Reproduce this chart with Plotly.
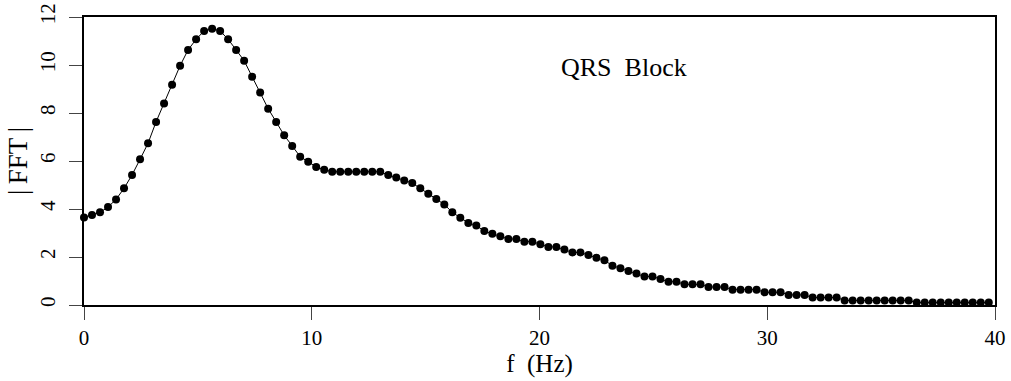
import numpy as np
import plotly.graph_objects as go

# FFT bin spacing (Hz): 360 Hz sampling, 1024-point FFT
sample_rate = 360.0
n_fft = 1024
fft_mag = [
    3.65, 3.75, 3.86, 4.08, 4.40, 4.86, 5.42, 6.07, 6.74, 7.63,
    8.40, 9.18, 9.97, 10.63, 11.07, 11.42, 11.51, 11.42, 11.07, 10.63,
    10.18, 9.51, 8.85, 8.18, 7.63, 7.07, 6.63, 6.18, 5.97, 5.75,
    5.64, 5.55, 5.55, 5.55, 5.55, 5.55, 5.55, 5.55, 5.42, 5.31,
    5.19, 5.08, 4.86, 4.64, 4.42, 4.19, 3.86, 3.64, 3.42, 3.31,
    3.08, 2.97, 2.86, 2.75, 2.75, 2.64, 2.64, 2.53, 2.42, 2.42,
    2.31, 2.19, 2.19, 2.08, 1.97, 1.86, 1.64, 1.53, 1.42, 1.31,
    1.19, 1.19, 1.08, 0.97, 0.97, 0.86, 0.86, 0.86, 0.75, 0.75,
    0.75, 0.64, 0.64, 0.64, 0.64, 0.53, 0.53, 0.53, 0.42, 0.42,
    0.42, 0.31, 0.31, 0.31, 0.31, 0.19, 0.19, 0.19, 0.19, 0.19,
    0.19, 0.19, 0.19, 0.19, 0.10, 0.10, 0.10, 0.10, 0.10, 0.10,
    0.10, 0.10, 0.10, 0.10,
]
freq = np.arange(len(fft_mag)) * sample_rate / n_fft

x_ticks = [0, 10, 20, 30, 40]
y_ticks = [0, 2, 4, 6, 8, 10, 12]
label_text = "QRS\u00a0 Block"

FONT = "Liberation Serif, Times New Roman, serif"

fig = go.Figure()
fig.add_trace(go.Scatter(
    x=freq, y=fft_mag, mode="lines+markers",
    line=dict(color="black", width=1),
    marker=dict(color="black", size=8),
    cliponaxis=False, showlegend=False,
))

fig.add_annotation(x=23.7, y=9.9, text=label_text, showarrow=False,
                   font=dict(family=FONT, size=26, color="black"))

axis_common = dict(
    showgrid=False, zeroline=False, showline=True, linecolor="black",
    linewidth=2, mirror=True, ticks="outside", ticklen=13, tickwidth=1,
    tickcolor="#444", tickfont=dict(family=FONT, size=21, color="black"),
    automargin=False,
)
fig.update_xaxes(range=[0, 40], tickvals=x_ticks, ticklabelstandoff=0,
                 title=dict(text="f\u00a0 (Hz)", font=dict(family=FONT, size=25, color="black"), standoff=4),
                 **axis_common)
fig.update_yaxes(range=[0, 12], tickvals=y_ticks, tickangle=-90, ticklabelstandoff=6,
                 title=dict(text="|\u2009FFT\u2009|", font=dict(family=FONT, size=27, color="black"), standoff=0),
                 **axis_common)

fig.update_layout(
    width=1011, height=381,
    margin=dict(l=84, r=16, t=17, b=76, autoexpand=False),
    paper_bgcolor="white", plot_bgcolor="white",
    font=dict(family=FONT),
)

fig.write_html("out.html")
